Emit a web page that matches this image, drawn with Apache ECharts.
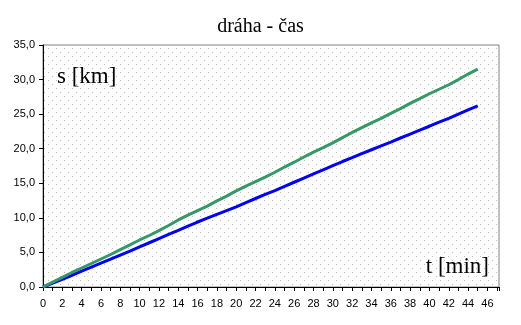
<!DOCTYPE html>
<html><head><meta charset="utf-8">
<script src="https://cdn.jsdelivr.net/npm/echarts@6/dist/echarts.min.js"></script>
<style>html,body{margin:0;padding:0;background:#fff}#c{width:521px;height:325px}</style>
</head><body><div id="c"></div>
<script>
const chartTitle = 'dráha - čas';
const yAxisName = 's [km]';
const xAxisName = 't [min]';
const times = [0,1,2,3,4,5,6,7,8,9,10,11,12,13,14,15,16,17,18,19,20,21,22,23,24,25,26,27,28,29,30,31,32,33,34,35,36,37,38,39,40,41,42,43,44,45];
const greenS = [0,0.7,1.4,2.1,2.75,3.4,4.05,4.7,5.4,6.1,6.8,7.45,8.15,8.9,9.7,10.4,11.05,11.7,12.45,13.15,13.9,14.6,15.25,15.9,16.6,17.35,18.05,18.8,19.5,20.15,20.85,21.6,22.35,23.05,23.75,24.4,25.1,25.8,26.55,27.25,27.95,28.6,29.25,30.0,30.8,31.5];
const blueS = [0,0.55,1.12,1.7,2.28,2.86,3.44,4.02,4.6,5.18,5.8,6.4,7.0,7.6,8.2,8.8,9.4,9.95,10.5,11.05,11.6,12.2,12.8,13.4,13.95,14.55,15.15,15.75,16.35,16.95,17.55,18.15,18.7,19.3,19.85,20.4,20.95,21.55,22.1,22.7,23.25,23.85,24.4,25.0,25.6,26.2];

const pc = document.createElement('canvas');
pc.width = 8; pc.height = 8;
const px = pc.getContext('2d');
px.fillStyle = '#fff'; px.fillRect(0,0,8,8);
px.fillStyle = '#bdbdbd'; px.fillRect(0,0,1,1); px.fillRect(4,4,1,1);

const chart = echarts.init(document.getElementById('c'), null, {renderer:'canvas'});
const labelFont = {color:'#000', fontFamily:'Liberation Sans, Arial, sans-serif', fontSize:11};
chart.setOption({
  animation:false,
  backgroundColor:'#fff',
  title:{text:chartTitle, left:'center', top:12, textStyle:{fontFamily:'Liberation Serif, Times New Roman, serif', fontWeight:'normal', fontSize:20, color:'#000'}},
  grid:{left:43, top:45, right:22, bottom:38, show:true, backgroundColor:{image:pc, repeat:'repeat'}, borderColor:'#808080', borderWidth:1},
  xAxis:{type:'value', min:0, max:47.2, interval:2,
    axisLine:{show:true, onZero:false, lineStyle:{color:'#000', width:1}},
    axisTick:{show:true, length:4, lineStyle:{color:'#000'}},
    minorTick:{show:true, splitNumber:2, length:4, lineStyle:{color:'#000'}},
    splitLine:{show:false}, minorSplitLine:{show:false},
    axisLabel:Object.assign({margin:11, showMaxLabel:false, formatter:v=> (v%2===0 ? String(v) : '')}, labelFont)},
  yAxis:{type:'value', min:0, max:35, interval:5,
    axisLine:{show:true, lineStyle:{color:'#000', width:1}},
    axisTick:{show:true, length:4, lineStyle:{color:'#000'}},
    splitLine:{show:false},
    axisLabel:Object.assign({margin:8, formatter:v=> v.toFixed(1).replace('.', ',')}, labelFont)},
  graphic:[
    {type:'text', left:57, top:65, style:{text:yAxisName, fontFamily:'Liberation Serif, Times New Roman, serif', fontSize:23, fill:'#000'}},
    {type:'text', right:32, top:255, style:{text:xAxisName, fontFamily:'Liberation Serif, Times New Roman, serif', fontSize:23, fill:'#000'}}
  ],
  series:[
    {type:'line', data:times.map((t,i)=>[t, greenS[i]]), showSymbol:false, lineStyle:{color:'#339966', width:3}, z:3},
    {type:'line', data:times.map((t,i)=>[t, blueS[i]]), showSymbol:false, lineStyle:{color:'#0000ff', width:3}, z:2}
  ]
});
</script></body></html>
